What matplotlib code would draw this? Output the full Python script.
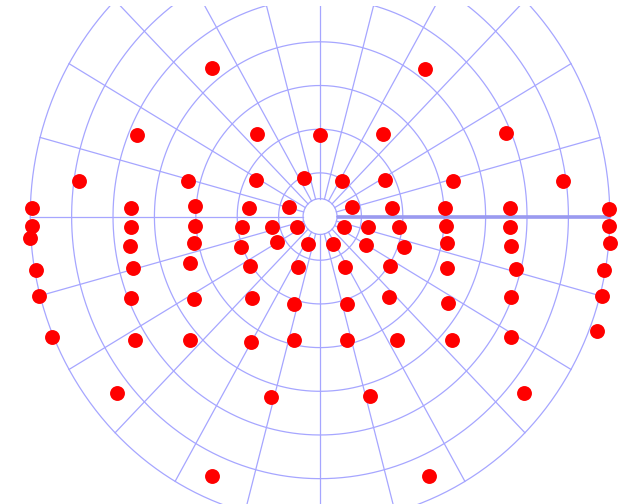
import matplotlib

matplotlib.use("Agg")

import matplotlib.pyplot as plt
import numpy as np

# test point locations in degrees (x = horizontal, y = vertical)
pts_x = [
    -26.1, 25.4,
    -44.2, -15.3, 0.0, 15.3, 45.0,
    -58.2, -32.0, -15.5, -3.9, 5.3, 15.8, 32.2, 58.6,
    -69.6, -45.7, -30.2, -17.1, -7.5, 7.7, 17.4, 30.3, 45.9, 69.8,
    -69.6, -45.7, -30.2, -18.8, -11.6, -5.6, 5.8, 11.6, 19.0, 30.4, 45.9, 69.8,
    -70.0, -45.9, -30.4, -19.1, -10.4, -2.9, 3.1, 11.1, 20.3, 30.7, 46.1, 70.0,
    -68.6, -45.2, -31.4, -16.9, -5.4, 6.0, 16.9, 30.7, 47.3, 68.6,
    -67.9, -45.7, -30.4, -16.5, -6.2, 6.5, 16.7, 31.0, 46.1, 68.1,
    -64.7, -44.7, -31.4, -16.6, -6.3, 6.6, 18.6, 31.8, 46.1, 66.9,
    -49.0, -11.8, 12.1, 49.3,
    -26.1, 26.4,
]
pts_y = [
    34.0, 33.8,
    18.6, 18.9, 18.6, 18.9, 19.1,
    8.1, 8.1, 8.4, 8.8, 8.1, 8.4, 8.1, 8.1,
    1.9, 1.9, 2.4, 1.9, 2.2, 2.2, 1.9, 1.9, 1.9, 1.7,
    -2.2, -2.4, -2.2, -2.4, -2.4, -2.4, -2.4, -2.4, -2.4, -2.2, -2.4, -2.2,
    -4.9, -6.8, -6.1, -7.0, -5.8, -6.3, -6.3, -6.5, -7.0, -6.1, -6.8, -6.1,
    -12.2, -11.8, -10.6, -11.3, -11.6, -11.6, -11.3, -11.8, -12.0, -12.2,
    -18.2, -18.6, -18.8, -18.6, -20.1, -20.1, -18.4, -19.8, -18.5, -18.2,
    -27.6, -28.3, -28.3, -28.7, -28.3, -28.3, -28.3, -28.3, -27.6, -26.3,
    -40.3, -41.3, -41.1, -40.3,
    -59.4, -59.4,
]

ring_radii = [10, 20, 30, 40, 50, 60, 70]
spoke_angles = np.arange(0, 360, 15)
hole_radius = 4.1
outer = 70

grid_color = "#a6a6ff"

fig = plt.figure(figsize=(6.21, 5.04), dpi=100)
ax = fig.add_axes([0, 0, 1, 498 / 504])
ax.set_xlim(-77.3, 72.7)
ax.set_ylim(-65.8, 48.2)
ax.axis("off")

t = np.linspace(0, 2 * np.pi, 400)
for r in [hole_radius] + ring_radii:
    ax.plot(r * np.cos(t), r * np.sin(t), color=grid_color, lw=0.9, zorder=1)

for a in np.deg2rad(spoke_angles):
    ax.plot([hole_radius * np.cos(a), outer * np.cos(a)],
            [hole_radius * np.sin(a), outer * np.sin(a)],
            color=grid_color, lw=0.9, zorder=1)

# blind-spot marker line along the right meridian
ax.plot([hole_radius, outer], [0, 0], color="#9a9af0", lw=2.6,
        solid_capstyle="butt", zorder=2)

ax.scatter(pts_x, pts_y, s=115, color="#ff0000", linewidths=0, zorder=3)

fig.savefig("out.png", dpi=100)
